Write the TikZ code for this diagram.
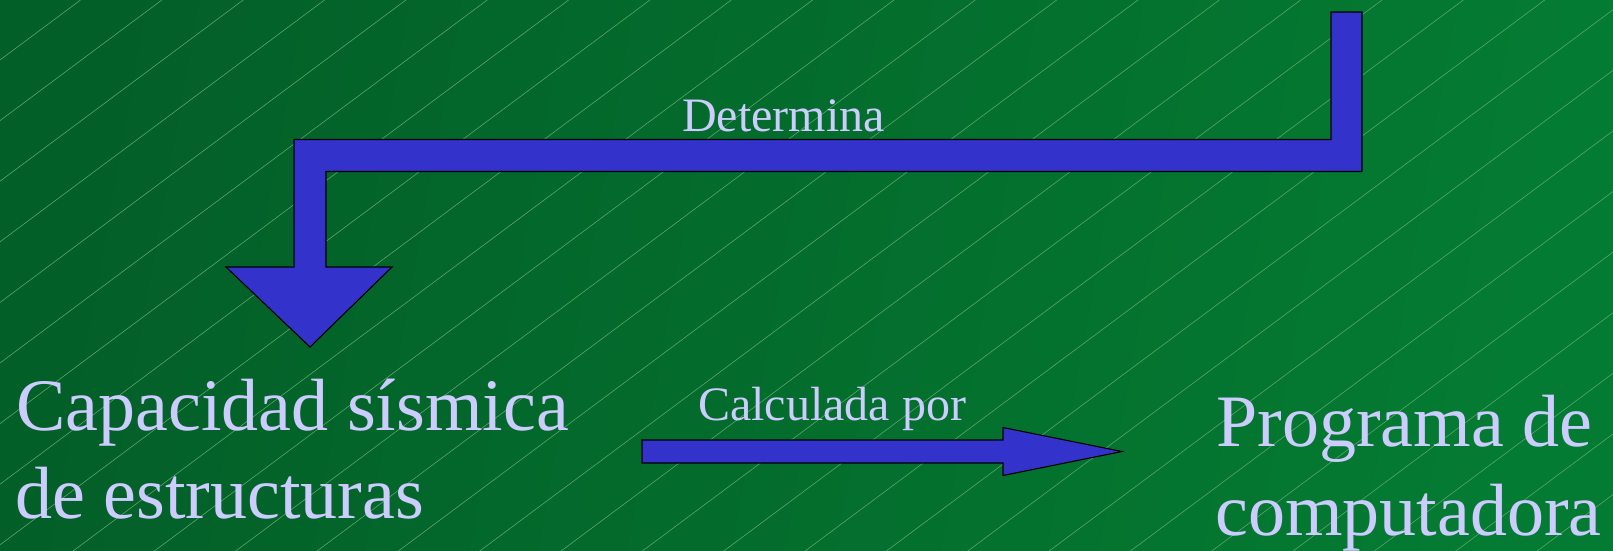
\documentclass[tikz,border=0pt]{standalone}
\usepackage{fontspec}
\setmainfont{Liberation Serif}
\definecolor{bgleft}{HTML}{035F28}
\definecolor{bgright}{HTML}{047B32}
\definecolor{hatch}{HTML}{5FA870}
\definecolor{arrowblue}{HTML}{3333CC}
\definecolor{txtlav}{HTML}{CCCCFF}
\tikzset{
  blockarrow/.style={fill=arrowblue, draw=black, line width=1.1pt, line join=miter},
  bigtext/.style={text=txtlav, inner sep=0pt, anchor=base west, font=\fontsize{74}{88}\selectfont},
  smalltext/.style={text=txtlav, inner sep=0pt, anchor=base west, font=\fontsize{48}{56}\selectfont},
  hatchline/.style={draw=hatch, line width=0.55pt}
}
\begin{document}
\begin{tikzpicture}[x=1pt,y=-1pt]
\useasboundingbox (0,0) rectangle (1613,550);
% background
\shade[left color=bgleft, right color=bgright, shading angle=80] (0,0) rectangle (1613,550);
\begin{scope}
\clip (0,0) rectangle (1613,550);
\foreach \k in {0,...,30}{
  \draw[hatchline] (0,{60+60.6*\k}) -- ({(60+60.6*\k)/0.745},0);
}
\end{scope}
% texts
\node[smalltext] (det) at (682,131.7) {Determina};
\node[smalltext] (calc) at (698,420) {Calculada por};
\node[bigtext] (cap1) at (16,430) {Capacidad sísmica};
\node[bigtext] (cap2) at (15,518) {de estructuras};
\node[bigtext] (prog1) at (1216,446) {Programa de};
\node[bigtext] (prog2) at (1215,535) {computadora};
% bent arrow
\coordinate (bstart) at (1346.5,12);
\coordinate (btip) at (310,347);
\draw[blockarrow] (1331,12) -- (1362,12) -- (1362,171.5) -- (326,171.5) -- (326,267)
  -- (392,267) -- (btip) -- (226,267) -- (294,267) -- (294,139.5) -- (1331,139.5) -- cycle;
% straight arrow
\coordinate (stip) at (1122,451.5);
\draw[blockarrow] (642,440) -- (1003,440) -- (1003,427.5) -- (stip) -- (1003,475.5)
  -- (1003,463) -- (642,463) -- cycle;
\end{tikzpicture}
\end{document}
